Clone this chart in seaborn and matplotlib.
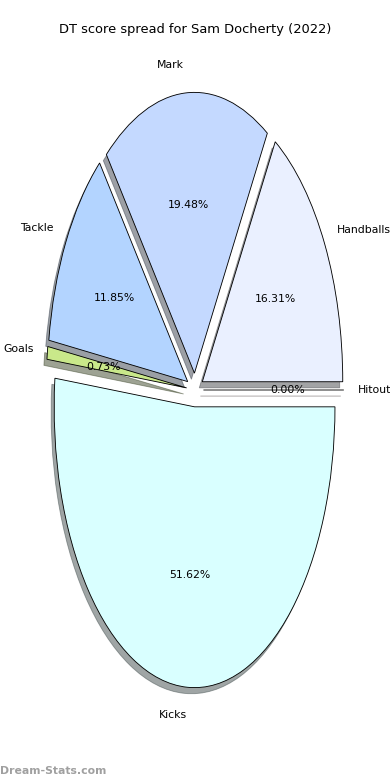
import matplotlib
matplotlib.use("Agg")
import matplotlib.pyplot as plt
import seaborn as sns

sns.set_style("white")
plt.rcParams["text.color"] = "black"

labels = ["Handballs", "Mark", "Tackle", "Goals", "Kicks", "Hitout"]
values = [16.31, 19.48, 11.85, 0.73, 51.62, 0.00]
colors = ["#eaf0ff", "#c4d9ff", "#b3d4ff", "#c9e88a", "#d9ffff", "#ffd9d9"]
explode = [0.06] * len(values)
title = "DT score spread for Sam Docherty (2022)"

total = sum(values)

fig = plt.figure(figsize=(5, 10), dpi=78)
ax = fig.add_axes([0.05, 0.05, 0.9, 0.9])
ax.pie(values, labels=labels, colors=colors, explode=explode,
       autopct=lambda p: f"{p * total / 100:.2f}%", shadow=True, startangle=0,
       wedgeprops={"edgecolor": "black", "linewidth": 0.8},
       textprops={"color": "black"})
ax.set_aspect("auto")
ax.set_xlim(-1.25, 1.25)
ax.set_ylim(-1.25, 1.25)
ax.set_title(title, fontsize=12, color="black")
fig.text(0.0, 0.005, "Dream-Stats.com", fontsize=10, fontweight="bold",
         color="gray", alpha=0.75, ha="left", va="bottom")
fig.savefig("out.png", dpi=78)
